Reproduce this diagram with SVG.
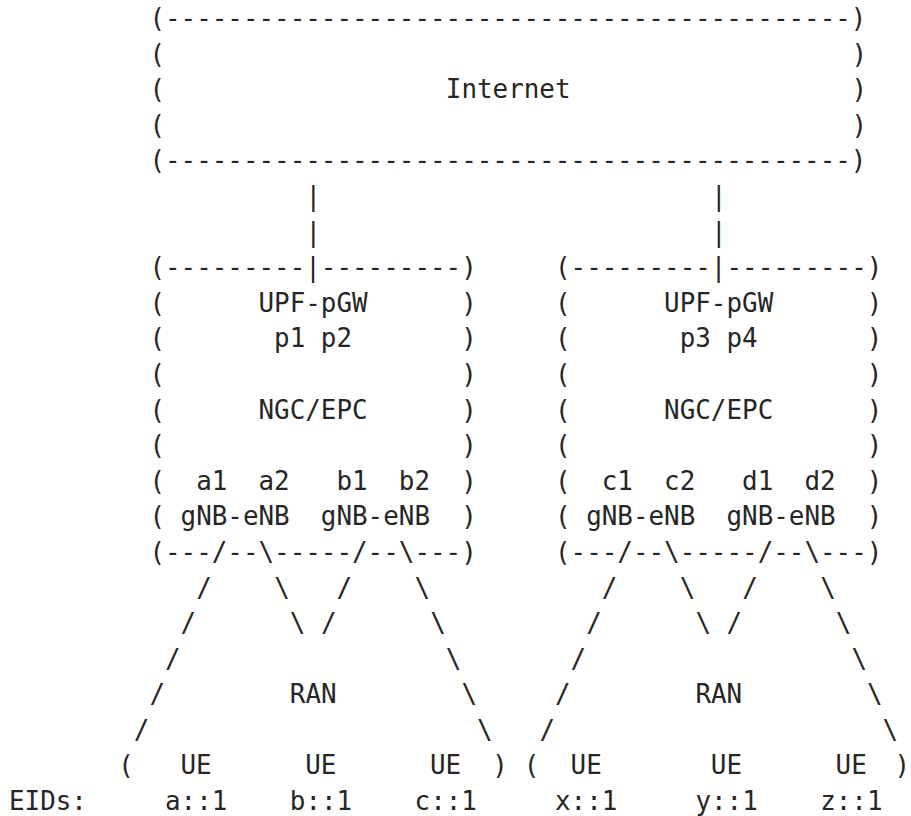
<svg xmlns="http://www.w3.org/2000/svg" width="911" height="816" viewBox="0 0 911 816">
<style>
text{font-family:"DejaVu Sans Mono","Liberation Mono",monospace;font-size:25.9px;fill:#262626;white-space:pre}
</style>
<rect width="911" height="816" fill="#ffffff"/>
<g id="internet" xml:space="preserve">
<text x="149.4" y="27.1">(--------------------------------------------)</text>
<text x="149.4" y="62.7">(</text><text x="851.4" y="62.7">)</text>
<text x="149.4" y="98.3">(</text><text x="445.8" y="98.3">Internet</text><text x="851.4" y="98.3">)</text>
<text x="149.4" y="133.9">(</text><text x="851.4" y="133.9">)</text>
<text x="149.4" y="169.4">(--------------------------------------------)</text>
</g>
<g id="core-left" xml:space="preserve">
<text x="149.4" y="276.2">(---------|---------)</text>
<text x="149.4" y="311.8">(      UPF-pGW      )</text>
<text x="149.4" y="347.4">(       p1 p2       )</text>
<text x="149.4" y="382.9">(                   )</text>
<text x="149.4" y="418.5">(      NGC/EPC      )</text>
<text x="149.4" y="454.1">(                   )</text>
<text x="149.4" y="489.7">(  a1  a2   b1  b2  )</text>
<text x="149.4" y="525.3">( gNB-eNB  gNB-eNB  )</text>
<text x="149.4" y="560.9">(---/--\-----/--\---)</text>
</g>
<g id="core-right" xml:space="preserve">
<text x="555" y="276.2">(---------|---------)</text>
<text x="555" y="311.8">(      UPF-pGW      )</text>
<text x="555" y="347.4">(       p3 p4       )</text>
<text x="555" y="382.9">(                   )</text>
<text x="555" y="418.5">(      NGC/EPC      )</text>
<text x="555" y="454.1">(                   )</text>
<text x="555" y="489.7">(  c1  c2   d1  d2  )</text>
<text x="555" y="525.3">( gNB-eNB  gNB-eNB  )</text>
<text x="555" y="560.9">(---/--\-----/--\---)</text>
</g>
<g id="ran-left"><text x="289.8" y="703.2">RAN</text></g>
<g id="ran-right"><text x="695.4" y="703.2">RAN</text></g>
<g id="ue-left" xml:space="preserve"><text x="118.2" y="774.4">(   UE      UE      UE  )</text></g>
<g id="ue-right" xml:space="preserve"><text x="523.8" y="774.4">(  UE       UE      UE</text><text x="910" y="774.4" text-anchor="end">)</text></g>
<g id="eids">
<text x="9" y="810">EIDs:</text>
<text x="165" y="810">a::1</text>
<text x="289.8" y="810">b::1</text>
<text x="414.6" y="810">c::1</text>
<text x="555" y="810">x::1</text>
<text x="695.4" y="810">y::1</text>
<text x="820.2" y="810">z::1</text>
</g>
<g id="connectors">
<text x="305.4" y="205">|</text><text x="711" y="205">|</text>
<text x="305.4" y="240.6">|</text><text x="711" y="240.6">|</text>
<text x="196.2" y="596.5">/</text><text x="274.2" y="596.5">\</text><text x="336.6" y="596.5">/</text><text x="414.6" y="596.5">\</text>
<text x="180.6" y="632">/</text><text x="289.8" y="632">\</text><text x="321" y="632">/</text><text x="430.2" y="632">\</text>
<text x="165" y="667.6">/</text><text x="445.8" y="667.6">\</text>
<text x="149.4" y="703.2">/</text><text x="461.4" y="703.2">\</text>
<text x="133.8" y="738.8">/</text><text x="477" y="738.8">\</text>
<text x="601.8" y="596.5">/</text><text x="679.8" y="596.5">\</text><text x="742.2" y="596.5">/</text><text x="820.2" y="596.5">\</text>
<text x="586.2" y="632">/</text><text x="695.4" y="632">\</text><text x="726.6" y="632">/</text><text x="835.8" y="632">\</text>
<text x="570.6" y="667.6">/</text><text x="851.4" y="667.6">\</text>
<text x="555" y="703.2">/</text><text x="867" y="703.2">\</text>
<text x="539.4" y="738.8">/</text><text x="882.6" y="738.8">\</text>
</g>
</svg>
